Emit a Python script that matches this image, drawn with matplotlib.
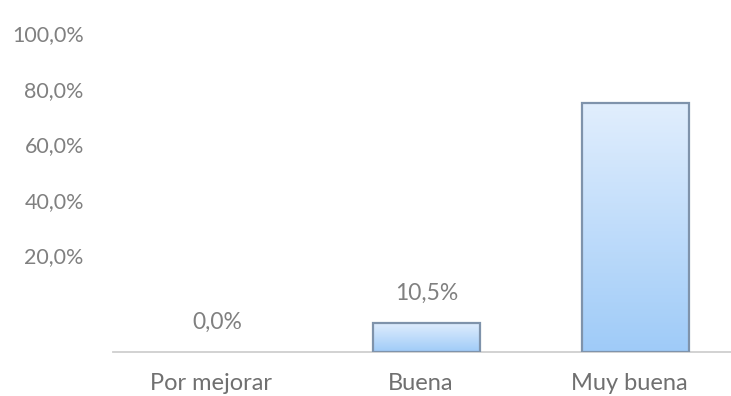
import numpy as np
import matplotlib.pyplot as plt
from matplotlib.colors import LinearSegmentedColormap
from matplotlib.transforms import ScaledTranslation

# Datos del gráfico
categorias = ['Por mejorar', 'Buena', 'Muy buena']
porcentajes = [0.0, 10.5, 89.5]
etiquetas = ['0,0%', '10,5%', None]
ticks_y = [20, 40, 60, 80, 100]
ticks_y_txt = ['20,0%', '40,0%', '60,0%', '80,0%', '100,0%']

plt.rcParams['font.family'] = ['Lato', 'DejaVu Sans']

fig = plt.figure(figsize=(7.31, 3.96), dpi=100)
ax = fig.add_axes([113 / 731, 44 / 396, 627 / 731, 278 / 396])

x = np.arange(len(categorias))
barras = ax.bar(x, porcentajes, width=0.51, color='none',
                edgecolor='#7f93ab', linewidth=1.6, zorder=3)

# Degradado vertical dentro de cada barra
degradado = LinearSegmentedColormap.from_list('azul', ['#9fcbf8', '#e1eefd'])
grad = np.linspace(0, 1, 256).reshape(-1, 1)
for b in barras:
    if b.get_height() <= 0:
        b.set_linewidth(0)
        continue
    x0, y0 = b.get_x(), b.get_y()
    im = ax.imshow(grad, cmap=degradado, origin='lower', aspect='auto',
                   extent=[x0, x0 + b.get_width(), y0, y0 + b.get_height()],
                   zorder=2)
    im.set_clip_path(b)

# Etiquetas de valor
for xi, v, txt in zip(x, porcentajes, etiquetas):
    if txt is None:
        continue
    ax.annotate(txt, (xi, v), xytext=(0, 21), textcoords='offset points',
                ha='center', va='center', fontsize=16.5, color='#808080')

ax.set_xlim(-0.5, 2.5)
ax.set_ylim(0, 100)
ax.set_xticks(x)
ax.set_xticklabels(categorias, fontsize=17, color='#707070')
ax.set_yticks(ticks_y)
ax.set_yticklabels(ticks_y_txt, fontsize=15.5, color='#808080')
ax.tick_params(axis='both', length=0)
ax.tick_params(axis='y', pad=21)
ax.tick_params(axis='x', pad=15)

# Etiquetas del eje y desplazadas hacia arriba
desplaza = ScaledTranslation(0, 41 / 100, fig.dpi_scale_trans)
for lbl in ax.get_yticklabels():
    lbl.set_transform(lbl.get_transform() + desplaza)

# Etiquetas de categoría un poco a la izquierda
izquierda = ScaledTranslation(-6 / 100, 0, fig.dpi_scale_trans)
for lbl in ax.get_xticklabels():
    lbl.set_transform(lbl.get_transform() + izquierda)

for lado in ['left', 'right', 'top']:
    ax.spines[lado].set_visible(False)
ax.spines['bottom'].set_color('#cfcfcf')
ax.spines['bottom'].set_linewidth(1.3)

fig.savefig('out.png', dpi=100)
